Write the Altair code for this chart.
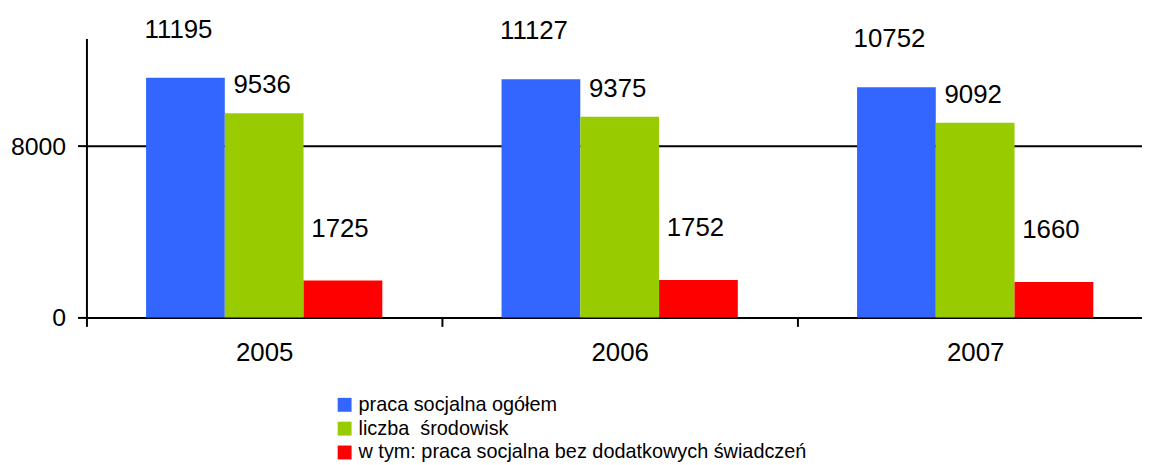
import altair as alt
import pandas as pd

years = ["2005", "2006", "2007"]
series = [
    "praca socjalna ogółem",
    "liczba\u00a0 środowisk",
    "w tym: praca socjalna bez dodatkowych świadczeń",
]
ogolem = [11195, 11127, 10752]
srodowisk = [9536, 9375, 9092]
bez_swiadczen = [1725, 1752, 1660]
colors = ["#3366FF", "#99CC00", "#FF0000"]
label_dy = [-40, -20, -44]
label_dx = [-7, -2, -3]

rows = []
for vals, s in zip([ogolem, srodowisk, bez_swiadczen], series):
    for yr, v in zip(years, vals):
        rows.append({"rok": yr, "seria": s, "wartosc": v})
df = pd.DataFrame(rows)

FONT = "Liberation Sans"

x = alt.X(
    "rok:N",
    sort=years,
    scale=alt.Scale(paddingInner=0, paddingOuter=0),
    axis=alt.Axis(
        title=None, labelAngle=0, tickBand="extent", ticks=True, tickSize=9,
        tickColor="black", tickWidth=2, domainColor="black", domainWidth=2,
        labelFontSize=26, labelPadding=13, labelColor="black", labelFont=FONT,
        grid=False,
    ),
)
xo = alt.XOffset(
    "seria:N", sort=series,
    scale=alt.Scale(domain=series, paddingInner=0, paddingOuter=0.757),
)
y = alt.Y(
    "wartosc:Q",
    scale=alt.Scale(domain=[0, 13030], nice=False),
    axis=alt.Axis(
        title=None, values=[0, 8000], grid=True, gridColor="black", gridWidth=2,
        tickSize=9, tickWidth=2, tickColor="black", domainColor="black",
        domainWidth=2, labelFontSize=25, labelPadding=12, labelColor="black",
        labelFont=FONT, format="d",
    ),
)

bars = alt.Chart(df).mark_bar(strokeWidth=0).encode(
    x=x,
    xOffset=xo,
    y=y,
    color=alt.Color(
        "seria:N",
        sort=series,
        scale=alt.Scale(domain=series, range=colors),
        legend=alt.Legend(
            title=None, orient="none", legendX=250, legendY=359,
            symbolType="square", symbolSize=196, symbolStrokeWidth=0,
            labelFontSize=20, labelFont=FONT, labelColor="black",
            labelLimit=0, rowPadding=4, labelOffset=4, padding=0,
        ),
    ),
)

layers = [bars]
for i, s in enumerate(series):
    layers.append(
        alt.Chart(df)
        .transform_filter(alt.datum.seria == s)
        .mark_text(
            dy=label_dy[i], dx=label_dx[i], baseline="alphabetic",
            align="center", fontSize=26, font=FONT, color="black",
        )
        .encode(x=x, xOffset=xo, y=y, text=alt.Text("wartosc:Q", format="d"))
    )

chart = (
    alt.layer(*layers)
    .properties(
        width=1074, height=281,
        autosize=alt.AutoSizeParams(type="none"),
        padding={"left": 79, "top": 29, "right": -11, "bottom": 147},
        background="white",
    )
    .configure_view(stroke=None)
)

chart.save("out.html", embed_options={"renderer": "svg", "actions": False})
